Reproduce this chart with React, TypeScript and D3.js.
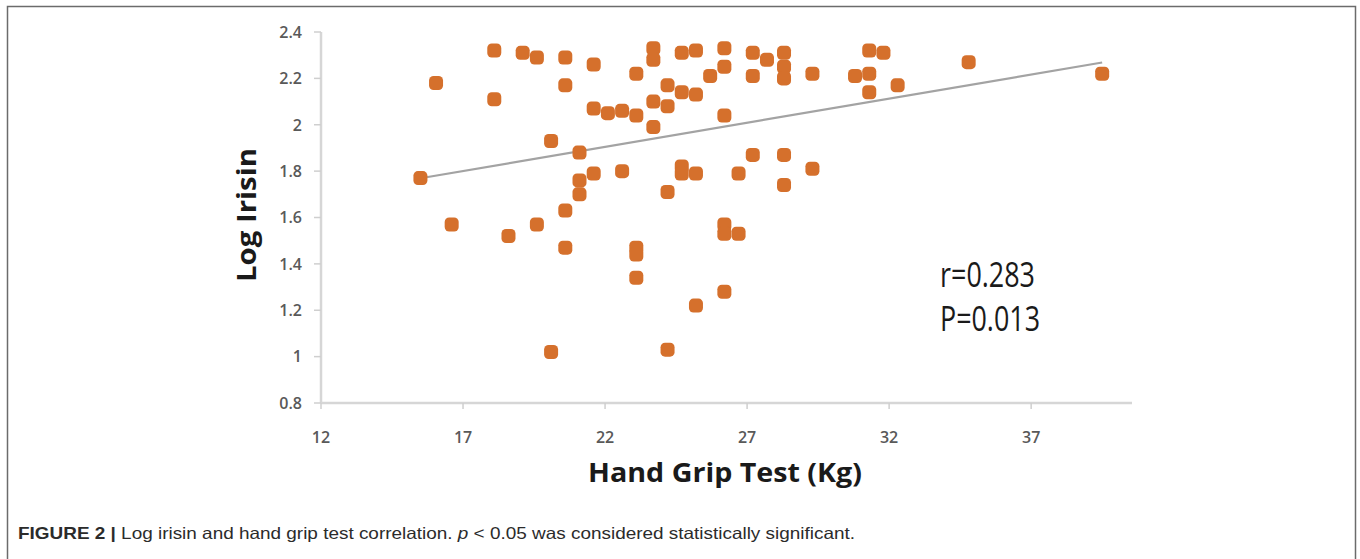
import React from 'react'
import * as d3 from 'd3'

// hand grip (kg) vs log irisin
const gripKg = [
  15.5, 16.05, 16.6, 18.1, 18.1, 18.6, 19.1, 19.6, 19.6, 20.1, 20.1,
  20.6, 20.6, 20.6, 20.6, 21.1, 21.1, 21.1, 21.6, 21.6, 21.6, 22.1,
  22.6, 22.6, 23.1, 23.1, 23.1, 23.1, 23.1, 23.7, 23.7, 23.7, 23.7,
  24.2, 24.2, 24.2, 24.2, 24.7, 24.7, 24.7, 24.7, 25.2, 25.2, 25.2, 25.2,
  25.7, 26.2, 26.2, 26.2, 26.2, 26.2, 26.2, 26.7, 26.7, 27.2, 27.2, 27.2,
  27.7, 28.3, 28.3, 28.3, 28.3, 28.3, 29.3, 29.3, 30.8, 31.3, 31.3, 31.3,
  31.8, 32.3, 34.8, 39.5,
]
const logIrisin = [
  1.77, 2.18, 1.57, 2.32, 2.11, 1.52, 2.31, 2.29, 1.57, 1.93, 1.02,
  2.29, 2.17, 1.63, 1.47, 1.88, 1.76, 1.70, 2.26, 2.07, 1.79, 2.05,
  2.06, 1.80, 2.22, 2.04, 1.47, 1.44, 1.34, 2.33, 2.28, 2.10, 1.99,
  2.17, 2.08, 1.71, 1.03, 2.31, 2.14, 1.82, 1.79, 2.32, 2.13, 1.79, 1.22,
  2.21, 2.33, 2.25, 2.04, 1.57, 1.53, 1.28, 1.79, 1.53, 2.31, 2.21, 1.87,
  2.28, 2.31, 2.25, 2.20, 1.87, 1.74, 2.22, 1.81, 2.21, 2.32, 2.22, 2.14,
  2.31, 2.17, 2.27, 2.22,
]

// linear trendline (Excel style)
const trendSlope = 0.0208
const trendIntercept = 1.447

const xTicks = [12, 17, 22, 27, 32, 37]
const yTicks = [0.8, 1, 1.2, 1.4, 1.6, 1.8, 2, 2.2, 2.4]

const stats = ['r=0.283', 'P=0.013']

const W = 1360
const H = 559

export default function App() {
  const x = d3.scaleLinear().domain([12, 40.55]).range([321, 1132])
  const y = d3.scaleLinear().domain([0.8, 2.4]).range([403, 32])

  const points = gripKg.map((g, i) => ({ g, v: logIrisin[i] }))
  const [x0, x1] = d3.extent(gripKg) as [number, number]
  const trend = d3.line<number>()
    .x(d => x(d))
    .y(d => y(trendIntercept + trendSlope * d))

  const tickFont = {
    fontFamily: 'Open Sans, sans-serif',
    fontSize: 16,
    fontWeight: 600,
    fill: '#595959',
  }

  return (
    <svg width={W} height={H} style={{ position: 'absolute', left: 0, top: 0, display: 'block' }}>
      <rect x={0} y={0} width={W} height={H} fill="white" />
      {/* figure frame */}
      <rect x={7.5} y={6.5} width={1348} height={620} fill="none" stroke="#6b6b6b" strokeWidth={1.5} />

      {/* axes */}
      <line x1={x(12)} x2={x(12)} y1={y(2.4)} y2={y(0.8)} stroke="#d6d6d6" strokeWidth={2.5} />
      <line x1={x(12)} x2={1132} y1={y(0.8)} y2={y(0.8)} stroke="#d6d6d6" strokeWidth={2.5} />

      {yTicks.map(t => (
        <g key={'y' + t}>
          <line x1={x(12) - 7} x2={x(12)} y1={y(t)} y2={y(t)} stroke="#cfcfcf" strokeWidth={1.5} />
          <text x={302} y={y(t)} dy="0.36em" textAnchor="end" style={tickFont}>{d3.format('~g')(t)}</text>
        </g>
      ))}
      {xTicks.map(t => (
        <g key={'x' + t}>
          <line x1={x(t)} x2={x(t)} y1={y(0.8)} y2={y(0.8) + 6} stroke="#cfcfcf" strokeWidth={1.5} />
          <text x={x(t)} y={443} textAnchor="middle" style={tickFont}>{t}</text>
        </g>
      ))}

      {/* trendline */}
      <path d={trend([x0, x1]) || ''} fill="none" stroke="#a3a3a3" strokeWidth={2.2} />

      {/* points */}
      {points.map((p, i) => (
        <rect key={i} x={x(p.g) - 7} y={y(p.v) - 7} width={14} height={14} rx={4.5}
          fill="#d5702c" />
      ))}

      {/* axis titles */}
      <text transform="translate(256,215) rotate(-90)" textAnchor="middle"
        textLength={134} lengthAdjust="spacingAndGlyphs"
        style={{ fontFamily: 'Open Sans, sans-serif', fontWeight: 700, fontSize: 27, fill: '#1a1a1a' }}>
        Log Irisin
      </text>
      <text x={725} y={482} textAnchor="middle"
        textLength={274} lengthAdjust="spacingAndGlyphs"
        style={{ fontFamily: 'Open Sans, sans-serif', fontWeight: 700, fontSize: 27, fill: '#1a1a1a' }}>
        Hand Grip Test (Kg)
      </text>

      {/* correlation stats */}
      {stats.map((s, i) => (
        <text key={s} x={940} y={287 + i * 44} textLength={i === 0 ? 95 : 100} lengthAdjust="spacingAndGlyphs"
          style={{ fontFamily: 'Open Sans, sans-serif', fontWeight: 400, fontSize: 34, fill: '#1a1a1a' }}>
          {s}
        </text>
      ))}

      {/* caption */}
      <text x={18} y={539} textLength={837} lengthAdjust="spacingAndGlyphs"
        style={{ fontFamily: 'Liberation Sans, Arial, sans-serif', fontSize: 16.5, fill: '#2b2b2b' }}>
        <tspan fontWeight={700}>FIGURE 2 | </tspan>
        <tspan>Log irisin and hand grip test correlation. </tspan>
        <tspan fontStyle="italic">p</tspan>
        <tspan> &lt; 0.05 was considered statistically significant.</tspan>
      </text>
    </svg>
  )
}
